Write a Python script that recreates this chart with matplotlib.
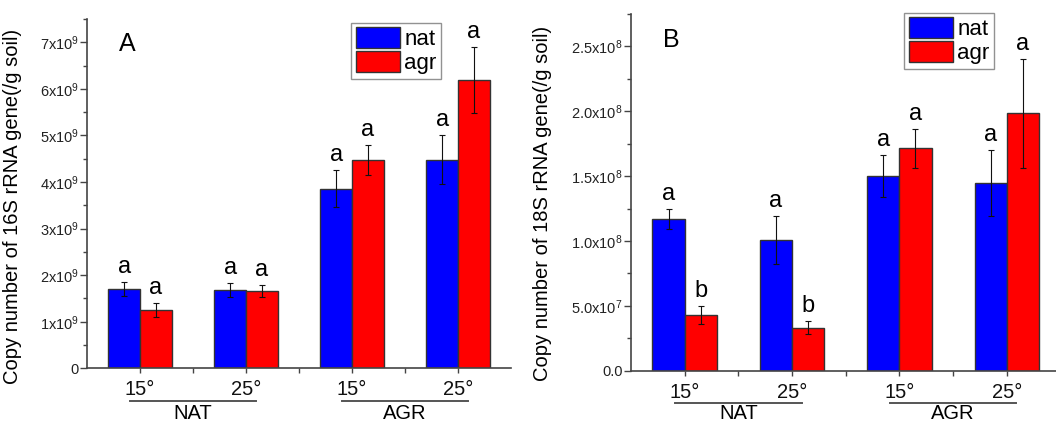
import numpy as np
import matplotlib
matplotlib.use('Agg')
import matplotlib.pyplot as plt
from matplotlib.ticker import FixedLocator, MultipleLocator
from matplotlib.transforms import blended_transform_factory

plt.rcParams['font.family'] = ['Liberation Sans', 'DejaVu Sans']
plt.rcParams['mathtext.fontset'] = 'custom'
plt.rcParams['mathtext.rm'] = 'Liberation Sans'
plt.rcParams['mathtext.it'] = 'Liberation Sans:italic'
plt.rcParams['mathtext.bf'] = 'Liberation Sans:bold'

# categories
temps = ['15°', '25°', '15°', '25°']
groups = ['NAT', 'AGR']
series = ['nat', 'agr']

# panel A: 16S rRNA copies (/g soil)
nat_16s = [1.71e9, 1.69e9, 3.86e9, 4.48e9]
nat_16s_err = [0.15e9, 0.15e9, 0.39e9, 0.53e9]
agr_16s = [1.25e9, 1.66e9, 4.47e9, 6.19e9]
agr_16s_err = [0.15e9, 0.13e9, 0.33e9, 0.71e9]
nat_16s_sig = ['a', 'a', 'a', 'a']
agr_16s_sig = ['a', 'a', 'a', 'a']

# panel B: 18S rRNA copies (/g soil)
nat_18s = [1.17e8, 1.01e8, 1.50e8, 1.45e8]
nat_18s_err = [0.08e8, 0.185e8, 0.16e8, 0.255e8]
agr_18s = [0.43e8, 0.33e8, 1.715e8, 1.985e8]
agr_18s_err = [0.07e8, 0.05e8, 0.15e8, 0.42e8]
nat_18s_sig = ['a', 'a', 'a', 'a']
agr_18s_sig = ['b', 'b', 'a', 'a']

# tick labels
yticks_16s = [0, 1e9, 2e9, 3e9, 4e9, 5e9, 6e9, 7e9]
ylabels_16s = ['0'] + [f'{i}x10$^{{9}}$' for i in range(1, 8)]
yticks_18s = [0, 0.5e8, 1.0e8, 1.5e8, 2.0e8, 2.5e8]
ylabels_18s = ['0.0', '5.0x10$^{7}$', '1.0x10$^{8}$', '1.5x10$^{8}$', '2.0x10$^{8}$', '2.5x10$^{8}$']

colors = ['#0000ff', '#ff0000']
edge = '#333333'
width = 0.3


def draw_panel(ax, nat, nat_err, agr, agr_err, nat_sig, agr_sig, yticks, ylabels,
               ymax, yminor, ylabel, tag, leg_anchor, ylabel_xy, group_y):
    x = np.arange(1, len(temps) + 1)
    for vals, errs, sig, off, c, name in [(nat, nat_err, nat_sig, -width / 2, colors[0], series[0]),
                                          (agr, agr_err, agr_sig, width / 2, colors[1], series[1])]:
        ax.bar(x + off, vals, width, color=c, edgecolor=edge, linewidth=1.0,
               label=name, zorder=2)
        ax.errorbar(x + off, vals, yerr=errs, fmt='none', ecolor='#111111',
                    elinewidth=0.8, capsize=2.5, capthick=0.8, zorder=3)
        for xi, v, e, s in zip(x + off, vals, errs, sig):
            ax.annotate(s, (xi, v + e), xytext=(0, 6.5), textcoords='offset points',
                        ha='center', va='baseline', fontsize=17)

    ax.set_xlim(0.5, 4.5)
    ax.set_ylim(0, ymax)
    ax.set_xticks(x)
    ax.set_xticklabels(temps, fontsize=14.5)
    ax.xaxis.set_minor_locator(FixedLocator([1.5, 2.5, 3.5]))
    ax.set_yticks(yticks)
    ax.set_yticklabels(ylabels, fontsize=10.5)
    ax.yaxis.set_minor_locator(MultipleLocator(yminor))

    for sp in ['top', 'right']:
        ax.spines[sp].set_visible(False)
    for sp in ['left', 'bottom']:
        ax.spines[sp].set_color('#444444')
        ax.spines[sp].set_linewidth(1.2)
    ax.tick_params(axis='y', which='major', direction='out', length=5, width=1, pad=1, colors='#444444',
                   labelcolor='#222222')
    ax.tick_params(axis='y', which='minor', direction='out', length=3, width=1, colors='#444444')
    ax.tick_params(axis='x', which='both', direction='out', length=3.5, width=1, pad=5, colors='#444444',
                   labelcolor='#111111')

    ax.set_ylabel(ylabel, fontsize=14.5)
    ax.yaxis.set_label_coords(*ylabel_xy)

    ax.text(0.095, 0.927, tag, transform=ax.transAxes, fontsize=18, ha='center', va='center')

    # group labels under the temperatures
    trans = blended_transform_factory(ax.transData, ax.transAxes)
    line_y, text_y = group_y
    for gi, g in enumerate(groups):
        cx = 1.5 + 2 * gi
        ax.plot([cx - 0.59, cx + 0.59], [line_y, line_y], transform=trans, color='#555555',
                linewidth=1.4, clip_on=False)
        ax.text(cx, text_y, g, transform=trans, fontsize=14.5, ha='center', va='center')

    leg = ax.legend(loc='upper left', bbox_to_anchor=leg_anchor, borderaxespad=0,
                    fontsize=16, fancybox=False, frameon=True, handlelength=2.0,
                    handleheight=1.05, handletextpad=0.2, labelspacing=0.05,
                    borderpad=0.2, edgecolor='#777777')
    leg.get_frame().set_linewidth(1.0)


fig = plt.figure(figsize=(10.56, 4.24), dpi=100)
ax1 = fig.add_axes([0.0824, 0.1314, 0.4015, 0.8238])
ax2 = fig.add_axes([0.5975, 0.1257, 0.4067, 0.8413])

draw_panel(ax1, nat_16s, nat_16s_err, agr_16s, agr_16s_err, nat_16s_sig, agr_16s_sig,
           yticks_16s, ylabels_16s, 7.5e9, 0.5e9,
           'Copy number of 16S rRNA gene(/g soil)', 'A', (0.623, 0.9885), (-0.153, 0.462),
           (-0.095, -0.129))
draw_panel(ax2, nat_18s, nat_18s_err, agr_18s, agr_18s_err, nat_18s_sig, agr_18s_sig,
           yticks_18s, ylabels_18s, 2.75e8, 0.25e8,
           'Copy number of 18S rRNA gene(/g soil)', 'B', (0.636, 1.003), (-0.184, 0.47),
           (-0.091, -0.120))

fig.savefig('out.png', dpi=100)
